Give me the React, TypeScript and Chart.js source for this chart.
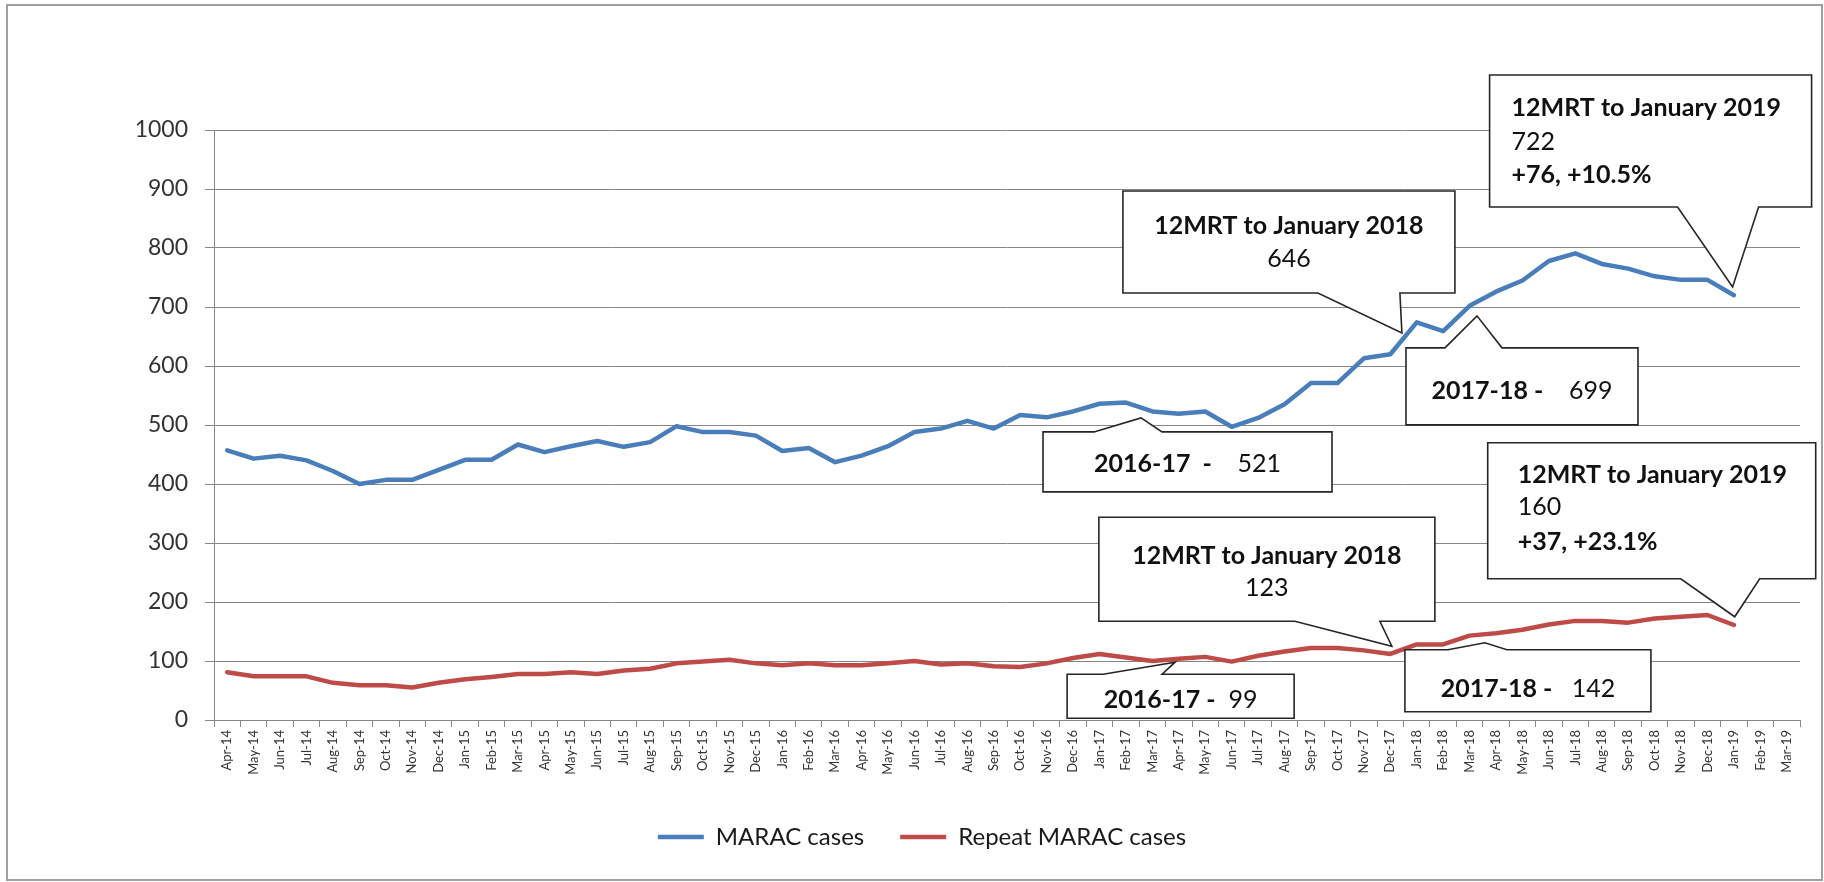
import React, { useEffect, useRef } from "react";
import { Chart, registerables } from "chart.js";

Chart.register(...registerables);

// ---------- DATA ----------
const months: string[] = [
  "Apr-14", "May-14", "Jun-14", "Jul-14", "Aug-14", "Sep-14", "Oct-14", "Nov-14", "Dec-14",
  "Jan-15", "Feb-15", "Mar-15", "Apr-15", "May-15", "Jun-15", "Jul-15", "Aug-15", "Sep-15", "Oct-15", "Nov-15", "Dec-15",
  "Jan-16", "Feb-16", "Mar-16", "Apr-16", "May-16", "Jun-16", "Jul-16", "Aug-16", "Sep-16", "Oct-16", "Nov-16", "Dec-16",
  "Jan-17", "Feb-17", "Mar-17", "Apr-17", "May-17", "Jun-17", "Jul-17", "Aug-17", "Sep-17", "Oct-17", "Nov-17", "Dec-17",
  "Jan-18", "Feb-18", "Mar-18", "Apr-18", "May-18", "Jun-18", "Jul-18", "Aug-18", "Sep-18", "Oct-18", "Nov-18", "Dec-18",
  "Jan-19", "Feb-19", "Mar-19",
];

const maracCases: (number | null)[] = [
  457, 443, 448, 440, 422, 400, 407, 407, 424,
  441, 441, 467, 454, 464, 473, 463, 471, 498, 488, 488, 482,
  456, 461, 437, 448, 464, 488, 494, 507, 494, 517, 513, 523,
  536, 538, 523, 519, 523, 497, 512, 535, 571, 571, 613, 620,
  674, 659, 702, 726, 745, 778, 791, 773, 765, 752, 746, 746,
  720, null, null,
];

const repeatMaracCases: (number | null)[] = [
  81, 74, 74, 74, 63, 59, 59, 55, 63,
  69, 73, 78, 78, 81, 78, 84, 87, 96, 99, 102, 96,
  93, 96, 93, 93, 96, 100, 94, 96, 91, 90, 96, 105,
  112, 106, 100, 104, 107, 99, 109, 116, 122, 122, 118, 112,
  128, 128, 143, 147, 153, 162, 168, 168, 165, 172, 175, 178,
  161, null, null,
];

const seriesNames: string[] = ["MARAC cases", "Repeat MARAC cases"];

// Callout anchors, in data units (category index, value)
const noteIndex: number[] = [56.95, 44.44, 47.28, 34.57, 57.03, 44.06, 35.86, 47.58];
const noteValue: number[] = [734, 656, 685, 512, 175, 125, 98, 131];
// Callout text: lines made of [text, bold] segments
const noteText: [string, boolean][][][] = [
  [[["12MRT to January 2019", true]], [["722", false]], [["+76, +10.5%", true]]],
  [[["12MRT to January 2018", true]], [["646", false]]],
  [[["2017-18 -", true], ["    699", false]]],
  [[["2016-17  -", true], ["    521", false]]],
  [[["12MRT to January 2019", true]], [["160", false]], [["+37, +23.1%", true]]],
  [[["12MRT to January 2018", true]], [["123", false]]],
  [[["2016-17 -", true], ["  99", false]]],
  [[["2017-18 -", true], ["   142", false]]],
];

// ---------- LAYOUT / STYLE ----------
const W = 1824;
const H = 882;
const BLUE = "#4A7EBB";
const RED = "#BE4B48";
const GRID = "#868686";
const FONT = "Lato, 'Open Sans', 'DejaVu Sans', sans-serif";

type CalloutLayout = {
  dx: number; dy: number; w: number; h: number;
  b1: number; b2: number; side: "top" | "bottom";
  align: "left" | "center"; padX?: number; lineY: number[];
};

const CALLOUT_LAYOUT: CalloutLayout[] = [
  { dx: -243, dy: -212, w: 322, h: 132, b1: -55, b2: 26, side: "bottom", align: "left", padX: 22, lineY: [33, 67, 100] },
  { dx: -279, dy: -142, w: 332, h: 102, b1: -84, b2: -2, side: "bottom", align: "center", lineY: [35, 68] },
  { dx: -71, dy: 32, w: 232, h: 77, b1: -32, b2: 25, side: "top", align: "center", lineY: [43] },
  { dx: -98, dy: 14, w: 289, h: 60, b1: -47, b2: 21, side: "top", align: "center", lineY: [32] },
  { dx: -247, dy: -174, w: 328, h: 136, b1: -54, b2: 25, side: "bottom", align: "left", padX: 30, lineY: [32, 64, 99] },
  { dx: -293, dy: -129, w: 336, h: 104, b1: -97, b2: -12, side: "bottom", align: "center", lineY: [39, 71] },
  { dx: -108, dy: 12, w: 227, h: 44, b1: -72, b2: -13, side: "top", align: "center", lineY: [26] },
  { dx: -80, dy: 7, w: 246, h: 62, b1: -37, b2: 22, side: "top", align: "center", lineY: [39] },
];

const NOTE_FONT_SIZE = 25;

const framePlugin = {
  id: "frameAndBg",
  beforeDraw(chart: any) {
    const ctx = chart.ctx;
    ctx.save();
    ctx.fillStyle = "#ffffff";
    ctx.fillRect(0, 0, chart.width, chart.height);
    ctx.strokeStyle = "#a0a0a0";
    ctx.lineWidth = 2;
    ctx.strokeRect(7, 5, 1815, 875);
    ctx.restore();
  },
};

const calloutPlugin = {
  id: "callouts",
  afterDatasetsDraw(chart: any) {
    const ctx = chart.ctx;
    const xs = chart.scales.x;
    const ys = chart.scales.y;
    ctx.save();
    noteIndex.forEach((idx, i) => {
      const c = CALLOUT_LAYOUT[i];
      const tx = xs.getPixelForValue(idx);
      const ty = ys.getPixelForValue(noteValue[i]);
      const L = tx + c.dx;
      const T = ty + c.dy;
      const R = L + c.w;
      const B = T + c.h;
      const b1 = tx + c.b1;
      const b2 = tx + c.b2;
      ctx.beginPath();
      if (c.side === "bottom") {
        ctx.moveTo(L, T);
        ctx.lineTo(R, T);
        ctx.lineTo(R, B);
        ctx.lineTo(b2, B);
        ctx.lineTo(tx, ty);
        ctx.lineTo(b1, B);
        ctx.lineTo(L, B);
      } else {
        ctx.moveTo(L, T);
        ctx.lineTo(b1, T);
        ctx.lineTo(tx, ty);
        ctx.lineTo(b2, T);
        ctx.lineTo(R, T);
        ctx.lineTo(R, B);
        ctx.lineTo(L, B);
      }
      ctx.closePath();
      ctx.fillStyle = "#ffffff";
      ctx.fill();
      ctx.strokeStyle = "#262626";
      ctx.lineWidth = 1.6;
      ctx.lineJoin = "miter";
      ctx.stroke();

      ctx.fillStyle = "#111111";
      ctx.textBaseline = "middle";
      ctx.textAlign = "left";
      noteText[i].forEach((line, li) => {
        const widths = line.map(([t, b]) => {
          ctx.font = `${b ? "bold " : ""}${NOTE_FONT_SIZE}px ${FONT}`;
          return ctx.measureText(t).width;
        });
        const total = widths.reduce((a, b) => a + b, 0);
        let x = c.align === "left" ? L + (c.padX || 0) : (L + R) / 2 - total / 2;
        const y = T + c.lineY[li];
        line.forEach(([t, b], si) => {
          ctx.font = `${b ? "bold " : ""}${NOTE_FONT_SIZE}px ${FONT}`;
          ctx.fillText(t, x, y);
          x += widths[si];
        });
      });
    });
    ctx.restore();
  },
};

export default function App() {
  const canvasRef = useRef<HTMLCanvasElement | null>(null);

  useEffect(() => {
    let chart: Chart | null = null;
    let cancelled = false;
    const make = () => {
      if (cancelled || !canvasRef.current) return;
      chart = new Chart(canvasRef.current, {
        type: "line",
        data: {
          labels: months,
          datasets: [
            {
              label: seriesNames[0],
              data: maracCases,
              borderColor: BLUE,
              backgroundColor: BLUE,
              borderWidth: 4.5,
              pointRadius: 0,
              tension: 0,
              borderJoinStyle: "round",
              borderCapStyle: "round",
            },
            {
              label: seriesNames[1],
              data: repeatMaracCases,
              borderColor: RED,
              backgroundColor: RED,
              borderWidth: 4.5,
              pointRadius: 0,
              tension: 0,
              borderJoinStyle: "round",
              borderCapStyle: "round",
            },
          ],
        },
        options: {
          responsive: false,
          animation: false,
          layout: { padding: { top: 130, left: 44, right: 24, bottom: 23 } },
          plugins: {
            tooltip: { enabled: false },
            legend: {
              position: "bottom",
              labels: {
                usePointStyle: true,
                pointStyle: "line",
                pointStyleWidth: 46,
                padding: 36,
                color: "#1a1a1a",
                font: { size: 24, family: FONT },
              },
            },
          },
          scales: {
            x: {
              type: "category",
              offset: true,
              grid: {
                display: true,
                drawOnChartArea: false,
                drawTicks: true,
                tickLength: 7,
                color: GRID,
                offset: true,
              },
              border: { display: true, color: GRID, width: 1 },
              ticks: {
                autoSkip: false,
                minRotation: 90,
                maxRotation: 90,
                padding: 3,
                color: "#333333",
                font: { size: 13, family: FONT },
              },
              afterFit: (s: any) => {
                s.height = 69;
              },
            },
            y: {
              min: 0,
              max: 1000,
              ticks: {
                stepSize: 100,
                padding: 17,
                color: "#333333",
                font: { size: 23, family: FONT },
                callback: (v: any) => String(v),
              },
              grid: { color: GRID, tickLength: 9, drawTicks: true, lineWidth: 1 },
              border: { display: true, color: GRID, width: 1 },
              afterFit: (s: any) => {
                s.width = 170;
              },
            },
          },
        },
        plugins: [framePlugin, calloutPlugin],
      } as any);
    };
    const fontsReady = (document as any).fonts
      ? Promise.all([
          (document as any).fonts.load(`bold 25px Lato`),
          (document as any).fonts.load(`25px Lato`),
        ])
      : Promise.resolve();
    fontsReady.then(make, make);
    return () => {
      cancelled = true;
      if (chart) chart.destroy();
    };
  }, []);

  return (
    <div style={{ position: "fixed", left: 0, top: 0, width: W, height: H, background: "#fff" }}>
      <canvas ref={canvasRef} width={W} height={H} style={{ display: "block", width: W, height: H }} />
    </div>
  );
}
